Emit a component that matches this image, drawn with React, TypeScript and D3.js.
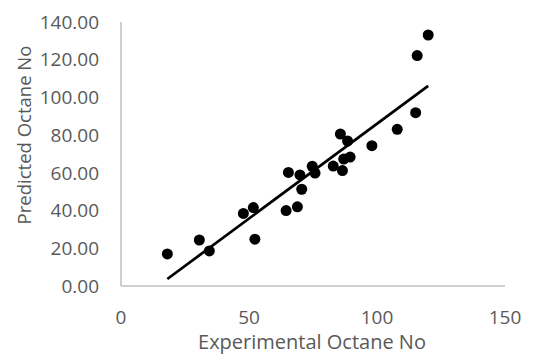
import React from 'react';
import * as d3 from 'd3';

// experimental vs predicted octane numbers
const experimental = [18.1, 30.6, 34.5, 47.8, 51.7, 52.3, 64.5, 65.4, 68.9, 69.9, 70.6, 74.7, 75.8, 82.9, 85.7, 86.5, 87.0, 88.5, 89.5, 98.0, 107.9, 115.1, 115.7, 120.0];
const predicted = [17.0, 24.4, 18.6, 38.5, 41.6, 24.8, 40.0, 60.2, 42.0, 58.9, 51.3, 63.5, 59.9, 63.6, 80.6, 61.2, 67.3, 76.9, 68.4, 74.4, 83.1, 91.9, 122.2, 133.1];

const xTicks = [0, 50, 100, 150];
const yTicks = [0, 20, 40, 60, 80, 100, 120, 140];

const xTitle = 'Experimental Octane No';
const yTitle = 'Predicted Octane No';

export default function App() {
    const width = 533;
    const height = 356;
    const left = 121, right = 505, top = 22, bottom = 286;
    const font = "'Open Sans', sans-serif";
    const textColor = '#595959';

    const x = d3.scaleLinear().domain([0, 150]).range([left, right]);
    const y = d3.scaleLinear().domain([0, 140]).range([bottom, top]);

    const pts = experimental.map((d, i) => [d, predicted[i]]);

    // linear trendline (least squares), drawn over the data range like excel does
    const mx = d3.mean(experimental) || 0;
    const my = d3.mean(predicted) || 0;
    const sxy = d3.sum(pts, p => (p[0] - mx) * (p[1] - my));
    const sxx = d3.sum(experimental, v => (v - mx) * (v - mx));
    const slope = sxy / sxx;
    const intercept = my - slope * mx;
    const ext = d3.extent(experimental) as [number, number];
    const trend = d3.line<number>().x(v => x(v)).y(v => y(slope * v + intercept))(ext);

    return (
        <svg width={width} height={height} style={{ position: 'absolute', left: 0, top: 0, background: 'white' }}>
            <line x1={left} x2={left} y1={top} y2={bottom} stroke="#bfbfbf" strokeWidth={1.5} />
            <line x1={left} x2={right} y1={bottom} y2={bottom} stroke="#bfbfbf" strokeWidth={1.5} />

            <g fontFamily={font} fontSize={19} fill={textColor}>
                {yTicks.map(t => (
                    <text key={'y' + t} x={99} y={y(t)} dy="0.35em" textAnchor="end">{t.toFixed(2)}</text>
                ))}
                {xTicks.map(t => (
                    <text key={'x' + t} x={x(t)} y={317} dy="0.35em" textAnchor="middle">{t}</text>
                ))}
            </g>

            <text x={312} y={342} dy="0.35em" textAnchor="middle" fontFamily={font} fontSize={20} fill={textColor}>{xTitle}</text>
            <text transform={`translate(25,${135}) rotate(-90)`} dy="0.35em" textAnchor="middle" fontFamily={font} fontSize={18.5} fill={textColor}>{yTitle}</text>

            <g>
                {pts.map((p, i) => (
                    <circle key={i} cx={x(p[0])} cy={y(p[1])} r={5.5} fill="black" />
                ))}
            </g>
            <path d={trend || ''} fill="none" stroke="black" strokeWidth={2.75} />
        </svg>
    );
}
